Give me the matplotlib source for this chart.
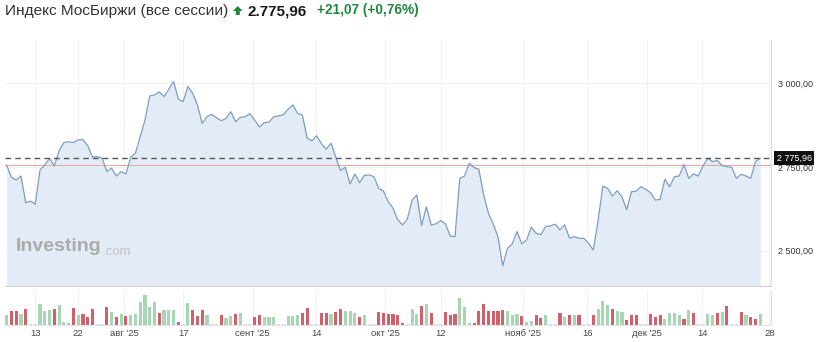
import matplotlib
matplotlib.use('Agg')
import matplotlib.pyplot as plt
import numpy as np
from matplotlib.patches import Polygon

plt.rcParams['font.family'] = ['Liberation Sans', 'DejaVu Sans']

W, H = 822, 342

title = "Индекс МосБиржи (все сессии)"
last_price = 2775.96
change = 21.07
change_pct = 0.76

close = [
    2755, 2719, 2711, 2723, 2643, 2648, 2639, 2741, 2756, 2775,
    2753, 2798, 2823, 2825, 2823, 2831, 2831, 2813, 2779, 2781,
    2776, 2736, 2746, 2723, 2736, 2729, 2779, 2791, 2840, 2890,
    2962, 2965, 2974, 2960, 2982, 3005, 2952, 2945, 2990, 2970,
    2935, 2880, 2900, 2907, 2897, 2888, 2895, 2915, 2885, 2898,
    2900, 2909, 2890, 2869, 2882, 2884, 2900, 2902, 2906, 2922,
    2935, 2910, 2905, 2836, 2828, 2843, 2819, 2803, 2821, 2779,
    2739, 2749, 2699, 2729, 2703, 2725, 2726, 2721, 2686, 2678,
    2646, 2627, 2592, 2577, 2594, 2651, 2666, 2575, 2631, 2577,
    2580, 2590, 2580, 2544, 2542, 2716, 2723, 2761, 2748, 2743,
    2666, 2612, 2580, 2542, 2454, 2507, 2520, 2557, 2520, 2532,
    2570, 2552, 2548, 2572, 2574, 2579, 2562, 2577, 2537, 2542,
    2537, 2537, 2522, 2502, 2590, 2693, 2686, 2663, 2679, 2661,
    2622, 2676, 2678, 2691, 2683, 2673, 2651, 2653, 2713, 2691,
    2721, 2723, 2757, 2716, 2729, 2723, 2753, 2776, 2766, 2769,
    2754, 2751, 2749, 2716, 2728, 2723, 2716, 2766, 2775.96,
]

volume = [
    30, 40, 42, 33, 47, 3, 3, 62, 42, 44,
    46, 57, 8, 5, 50, 30, 33, 24, 47, 3,
    3, 52, 37, 24, 31, 27, 30, 31, 66, 88,
    53, 66, 36, 44, 44, 44, 10, 3, 65, 43,
    27, 43, 30, 3, 3, 29, 20, 27, 31, 35,
    3, 3, 24, 30, 22, 22, 22, 3, 3, 25,
    27, 28, 36, 50, 3, 3, 36, 36, 32, 38,
    47, 42, 40, 35, 22, 30, 3, 3, 38, 36,
    33, 32, 30, 5, 3, 48, 32, 55, 62, 35,
    3, 3, 38, 30, 32, 78, 53, 6, 6, 42,
    62, 42, 42, 42, 44, 40, 28, 33, 25, 10,
    12, 28, 20, 30, 3, 3, 35, 22, 30, 28,
    28, 3, 3, 30, 48, 70, 58, 47, 40, 37,
    16, 28, 28, 3, 3, 33, 24, 28, 18, 35,
    35, 30, 18, 45, 35, 3, 3, 33, 30, 36,
    38, 55, 3, 3, 38, 30, 22, 18, 33,
]

vol_dir = ("grrgrnnggg" "rgggrgrrrn" "nrgrgrgggg" "ggrgggrngr" "rrgnnrggrg"
           "nnrrgggnng" "ggrrnnrrgr" "rgggrgnnrr" "rrrrnggrgr" "nnrrrgggrr"
           "rrrrrgggrg" "grrgnnrgrg" "rnnrgggrgg" "rrrnnrrrgg" "ggrgrnnggr"
           "grnnrgrrg")

tick_pos = [6, 15, 24.6, 37, 51.6, 64.9, 79.4, 91.0, 108.3, 121.7, 134.3, 145.8, 159.9]
tick_labels = ['13', '22', "авг '25", '17', "сент '25", '14', "окт '25",
               '12', "нояб '25", '16', "дек '25", '14', '28']
y_ticks = [2500, 2750, 3000]

prev_close = last_price - change


def fmt_space(v):
    s = f"{v:,.2f}"
    return s.replace(",", " ").replace(".", ",")


def fmt_dot(v):
    s = f"{v:,.2f}"
    return s.replace(",", "#").replace(".", ",").replace("#", ".")


def fx(px):
    return px / W


def fy(py):
    return 1 - py / H


fig = plt.figure(figsize=(W / 100, H / 100), dpi=100)
fig.patch.set_facecolor('white')

x = np.arange(len(close))
xlim = (-0.35, 160.25)

# price axes
ax = fig.add_axes([fx(5), fy(286), fx(771) - fx(5), fy(40) - fy(286)])
ax.set_xlim(*xlim)
ax.set_ylim(2394.5, 3129)
ax.fill_between(x, close, 2394.5, color='#e3ecf6', lw=0, zorder=1)
ax.plot(x, close, color='#7d9dc0', lw=0.9, zorder=3)
ax.axhline(prev_close, color='#e8a8a8', lw=0.8, zorder=2)
ax.axhline(last_price, color='#555555', lw=1.0, ls=(0, (4, 3)), zorder=4)
for t in tick_pos:
    ax.axvline(t, color='#f1f1f1', lw=0.8, zorder=0)
for yv in y_ticks:
    ax.axhline(yv, color='#f1f1f1', lw=0.8, zorder=0)
ax.set_xticks([])
ax.yaxis.tick_right()
ax.set_yticks(y_ticks)
ax.set_yticklabels([fmt_space(v) for v in y_ticks], fontsize=6.5, color='#333333')
ax.tick_params(axis='y', length=0, pad=5)
for s in ['top', 'left']:
    ax.spines[s].set_visible(False)
ax.spines['right'].set_color('#dddddd')
ax.spines['right'].set_linewidth(0.8)
ax.spines['bottom'].set_color('#cfcfcf')
ax.spines['bottom'].set_linewidth(0.8)

ax.annotate(fmt_space(last_price), xy=(1, last_price),
            xycoords=('axes fraction', 'data'), xytext=(4.2, 0),
            textcoords='offset points', ha='left', va='center',
            color='white', fontsize=6.5, zorder=10,
            bbox=dict(boxstyle='square,pad=0.28', fc='#111111', ec='none'),
            annotation_clip=False)

# watermark
wm = fig.text(fx(16), fy(251), "Investing", fontsize=14, fontweight='bold',
              color='#ababab', ha='left', va='baseline')
ax.annotate(".com", xy=(1, 0), xycoords=wm, xytext=(0.5, 0),
            textcoords='offset points', fontsize=9.5, color='#c2c2c2',
            ha='left', va='baseline', annotation_clip=False)

# volume axes
vax = fig.add_axes([fx(5), fy(325), fx(771) - fx(5), fy(290) - fy(325)])
vax.set_xlim(*xlim)
vax.set_ylim(0, 102)
cmap = {'g': '#a6d6b4', 'r': '#d2606a', 'n': '#d9d9d9'}
vax.bar(x, volume, width=0.66, color=[cmap[c] for c in vol_dir], lw=0, zorder=2)
for t in tick_pos:
    vax.axvline(t, color='#f1f1f1', lw=0.8, zorder=0)
vax.set_yticks([])
vax.set_xticks(tick_pos)
vax.set_xticklabels(tick_labels, fontsize=6.8, color='#444444')
vax.tick_params(axis='x', length=0, pad=3)
for s in ['top', 'left']:
    vax.spines[s].set_visible(False)
vax.spines['right'].set_color('#dddddd')
vax.spines['right'].set_linewidth(0.8)
vax.spines['bottom'].set_color('#e3e3e3')
vax.spines['bottom'].set_linewidth(0.8)

# header
fig.text(fx(5), fy(15), title, fontsize=11.1, color='#333333',
         ha='left', va='baseline')
green = '#1e8a3e'
arrow = Polygon([(fx(233), fy(11)), (fx(237.8), fy(6)), (fx(242.6), fy(11)),
                 (fx(239.8), fy(11)), (fx(239.8), fy(15)), (fx(235.8), fy(15)),
                 (fx(235.8), fy(11))], closed=True, transform=fig.transFigure,
                facecolor=green, edgecolor='none')
fig.patches.append(arrow)
fig.text(fx(247), fy(15), fmt_dot(last_price), fontsize=11, fontweight='bold',
         color='#1a1a1a', ha='left', va='baseline')
fig.text(fx(317), fy(14), f"+{change:.2f} (+{change_pct:.2f}%)".replace('.', ','),
         fontsize=9.8, fontweight='bold', color=green, ha='left', va='baseline')

fig.savefig('out.png', dpi=100, facecolor='white')
